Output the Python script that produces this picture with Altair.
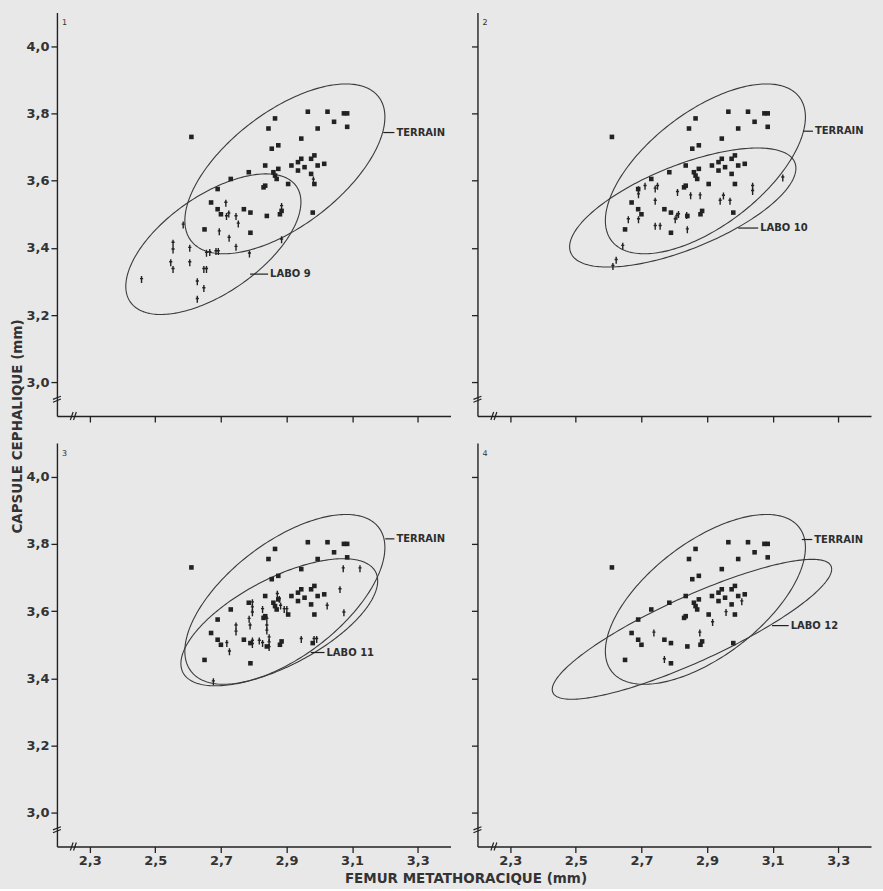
import numpy as np
import pandas as pd
import altair as alt

# ---------------- data ----------------
# TERRAIN (same field sample shown in every panel)
terrain_x = [2.61, 2.865, 2.845, 2.965, 3.025, 3.045, 3.075, 3.085, 3.085, 2.995,
             2.945, 2.875, 2.855, 2.835, 2.785, 2.73, 2.69, 2.67, 2.69, 2.70,
             2.77, 2.79, 2.84, 2.88, 2.885, 2.65, 2.79, 2.86, 2.865, 2.87,
             2.875, 2.83, 2.835, 2.915, 2.935, 2.945, 2.975, 2.985, 2.935, 2.955,
             2.995, 3.015, 2.975, 2.985, 2.905, 2.98]
terrain_y = [3.73, 3.785, 3.755, 3.805, 3.805, 3.775, 3.80, 3.80, 3.76, 3.755,
             3.725, 3.705, 3.695, 3.645, 3.625, 3.605, 3.575, 3.535, 3.515, 3.50,
             3.515, 3.505, 3.495, 3.50, 3.51, 3.455, 3.445, 3.625, 3.615, 3.605,
             3.635, 3.58, 3.585, 3.645, 3.655, 3.665, 3.665, 3.675, 3.63, 3.64,
             3.645, 3.65, 3.62, 3.59, 3.59, 3.505]

labo9_x = [2.458, 2.547, 2.554, 2.554, 2.554, 2.585, 2.605, 2.605, 2.628, 2.648,
           2.628, 2.648, 2.656, 2.656, 2.666, 2.685, 2.692, 2.695, 2.715, 2.717,
           2.724, 2.746, 2.753, 2.725, 2.746, 2.787, 2.885, 2.885, 2.982]
labo9_y = [3.306, 3.356, 3.336, 3.414, 3.394, 3.468, 3.399, 3.356, 3.299, 3.279,
           3.247, 3.336, 3.336, 3.384, 3.386, 3.389, 3.389, 3.448, 3.533, 3.493,
           3.501, 3.493, 3.471, 3.429, 3.402, 3.382, 3.523, 3.424, 3.602]

labo10_x = [2.613, 2.623, 2.643, 2.660, 2.691, 2.691, 2.691, 2.711, 2.742, 2.749,
            2.742, 2.742, 2.757, 2.803, 2.808, 2.813, 2.810, 2.840, 2.850, 2.879,
            2.838, 2.940, 2.950, 2.970, 3.039, 3.039, 3.131]
labo10_y = [3.345, 3.363, 3.405, 3.484, 3.484, 3.573, 3.558, 3.583, 3.575, 3.583,
            3.539, 3.464, 3.464, 3.484, 3.494, 3.499, 3.565, 3.454, 3.555, 3.555,
            3.496, 3.539, 3.554, 3.539, 3.583, 3.568, 3.608]

labo11_x = [2.677, 2.718, 2.726, 2.746, 2.746, 2.786, 2.789, 2.796, 2.796, 2.796,
            2.796, 2.796, 2.827, 2.817, 2.827, 2.840, 2.840, 2.840, 2.847, 2.847,
            2.847, 2.872, 2.878, 2.882, 2.893, 2.901, 2.945, 2.984, 2.992, 3.024,
            3.063, 3.075, 3.073, 3.124]
labo11_y = [3.390, 3.504, 3.479, 3.556, 3.538, 3.576, 3.556, 3.625, 3.610, 3.595,
            3.511, 3.501, 3.605, 3.511, 3.504, 3.576, 3.556, 3.541, 3.521, 3.506,
            3.492, 3.650, 3.635, 3.615, 3.605, 3.605, 3.516, 3.516, 3.516, 3.615,
            3.664, 3.595, 3.726, 3.726]

labo12_x = [2.738, 2.770, 2.878, 2.917, 2.958, 3.006]
labo12_y = [3.535, 3.456, 3.535, 3.566, 3.596, 3.628]

# ellipses: centre, half x-range, half y-range, correlation
ell_names = ["TERRAIN", "LABO 9", "LABO 10", "LABO 11", "LABO 12"]
ell_cx = [2.895, 2.677, 2.826, 2.878, 2.854]
ell_cy = [3.635, 3.411, 3.520, 3.567, 3.546]
ell_rx = [0.305, 0.267, 0.345, 0.300, 0.426]
ell_ry = [0.2525, 0.209, 0.177, 0.189, 0.208]
ell_rho = [0.61, 0.60, 0.66, 0.65, 0.86]

# labels attached to the ellipses: (leader start x, text x, y)
lab_terrain = [(3.195, 3.235, 3.743), (3.193, 3.229, 3.747), (3.201, 3.235, 3.815), (3.189, 3.227, 3.813)]
lab_labo = [(2.789, 2.850, 3.322), (2.995, 3.062, 3.459), (2.974, 3.022, 3.477), (3.098, 3.155, 3.557)]

x_ticks = [2.3, 2.5, 2.7, 2.9, 3.1, 3.3]
y_ticks = [3.0, 3.2, 3.4, 3.6, 3.8, 4.0]
x_domain = [2.2, 3.4]
y_domain = [2.9, 4.1]
x_break = [2.25]
y_break = [2.95]

INK = "#222222"
BG = "#e8e8e8"
FONT = "DejaVu Sans"
W, H = 394, 404


def ellipse_df(k):
    t = np.linspace(0, 2 * np.pi, 241)
    rho = ell_rho[k]
    x = ell_cx[k] + ell_rx[k] * np.cos(t)
    y = ell_cy[k] + ell_ry[k] * (rho * np.cos(t) + np.sqrt(1 - rho ** 2) * np.sin(t))
    return pd.DataFrame({"x": x, "y": y, "i": np.arange(len(t))})


LABEL_EXPR = "replace(format(datum.value, '.1f'), '.', ',')"


def panel(num, lx, ly, ell_k, show_x, show_y, ytitle=False, xtitle=False):
    xa = dict(values=x_ticks, labels=show_x, labelExpr=LABEL_EXPR, tickSize=6,
              tickColor=INK, tickWidth=1.3, domainColor=INK, domainWidth=1.4,
              labelFont=FONT, labelFontSize=13, labelFontWeight="bold", labelColor="#333333",
              labelPadding=2, grid=False, title=None)
    ya = dict(values=y_ticks, labels=show_y, labelExpr=LABEL_EXPR, tickSize=6,
              tickColor=INK, tickWidth=1.3, domainColor=INK, domainWidth=1.4,
              labelFont=FONT, labelFontSize=13, labelFontWeight="bold", labelColor="#333333",
              labelPadding=2, grid=False, title=None)
    if xtitle:
        xa.update(title="FEMUR METATHORACIQUE (mm)", titleX=409, titleY=32,
                  titleBaseline="middle", titleAlign="center", titleFont=FONT,
                  titleFontSize=13.5, titleFontWeight="bold", titleColor="#333333")
    if ytitle:
        ya.update(title="CAPSULE CEPHALIQUE (mm)", titleX=-39, titleY=414, titleAngle=270,
                  titleBaseline="middle", titleAlign="center", titleFont=FONT,
                  titleFontSize=13.5, titleFontWeight="bold", titleColor="#333333")
    X = alt.X("x:Q", scale=alt.Scale(domain=x_domain, nice=False, zero=False), axis=alt.Axis(**xa))
    Y = alt.Y("y:Q", scale=alt.Scale(domain=y_domain, nice=False, zero=False), axis=alt.Axis(**ya))

    layers = []
    for k in (0, ell_k):
        layers.append(alt.Chart(ellipse_df(k)).mark_line(color="#3a3a3a", strokeWidth=1.1)
                      .encode(x=X, y=Y, order="i:Q"))

    crosses = pd.DataFrame({"x": lx, "y": ly})
    layers.append(alt.Chart(crosses).mark_point(
        shape="M -0.45 -0.25 L 0.45 -0.25 M 0 -1 L 0 1", filled=False, size=49,
        color=INK, strokeWidth=1.4, opacity=1).encode(x=X, y=Y))

    dots = pd.DataFrame({"x": terrain_x, "y": terrain_y})
    layers.append(alt.Chart(dots).mark_point(shape="square", filled=True, size=21,
                                             color=INK, opacity=1).encode(x=X, y=Y))

    t0, t1, t2 = lab_terrain[num - 1]
    l0, l1, l2 = lab_labo[num - 1]
    labs = pd.DataFrame({"x": [t0, l0], "x2": [t1 - 0.006, l1 - 0.006], "y": [t2, l2],
                         "xt": [t1, l1], "txt": ["TERRAIN", ell_names[ell_k]]})
    layers.append(alt.Chart(labs).mark_rule(color=INK, strokeWidth=1.2)
                  .encode(x=X, x2="x2:Q", y=Y))
    layers.append(alt.Chart(labs).mark_text(align="left", baseline="middle", font=FONT,
                                            fontSize=10, fontWeight="bold", color="#2e2e2e")
                  .encode(x=alt.X("xt:Q", scale=alt.Scale(domain=x_domain, nice=False, zero=False),
                                  axis=alt.Axis(**xa)), y=Y, text="txt:N"))

    # panel number
    layers.append(alt.Chart(pd.DataFrame({"n": [str(num)]})).mark_text(
        align="left", baseline="middle", font=FONT, fontSize=8, color="#333333")
        .encode(x=alt.value(5), y=alt.value(11), text="n:N"))

    # axis breaks
    yb = pd.DataFrame({"x": [x_domain[0]], "y": y_break})
    xb = pd.DataFrame({"x": x_break, "y": [y_domain[0]]})
    layers.append(alt.Chart(yb).mark_point(shape="M -1 0.05 L 1 -0.75 M -1 0.75 L 1 -0.05",
                                           filled=False, size=64, color=INK, strokeWidth=1.2,
                                           opacity=1).encode(x=X, y=Y))
    layers.append(alt.Chart(xb).mark_point(shape="M -0.75 1 L -0.05 -1 M 0.05 1 L 0.75 -1",
                                           filled=False, size=64, color=INK, strokeWidth=1.2,
                                           opacity=1).encode(x=X, y=Y))

    return alt.layer(*layers).properties(width=W, height=H)


p1 = panel(1, labo9_x, labo9_y, 1, show_x=False, show_y=True, ytitle=True)
p2 = panel(2, labo10_x, labo10_y, 2, show_x=False, show_y=False)
p3 = panel(3, labo11_x, labo11_y, 3, show_x=True, show_y=True, xtitle=True)
p4 = panel(4, labo12_x, labo12_y, 4, show_x=True, show_y=False)

chart = alt.concat(p1, p2, p3, p4, columns=2, spacing=27, bounds="flush").properties(
    background=BG,
    padding={"left": 11, "top": 12, "right": 12, "bottom": 3},
).configure_view(stroke=None)

chart.save("out.html", embed_options={"renderer": "svg", "actions": False})
